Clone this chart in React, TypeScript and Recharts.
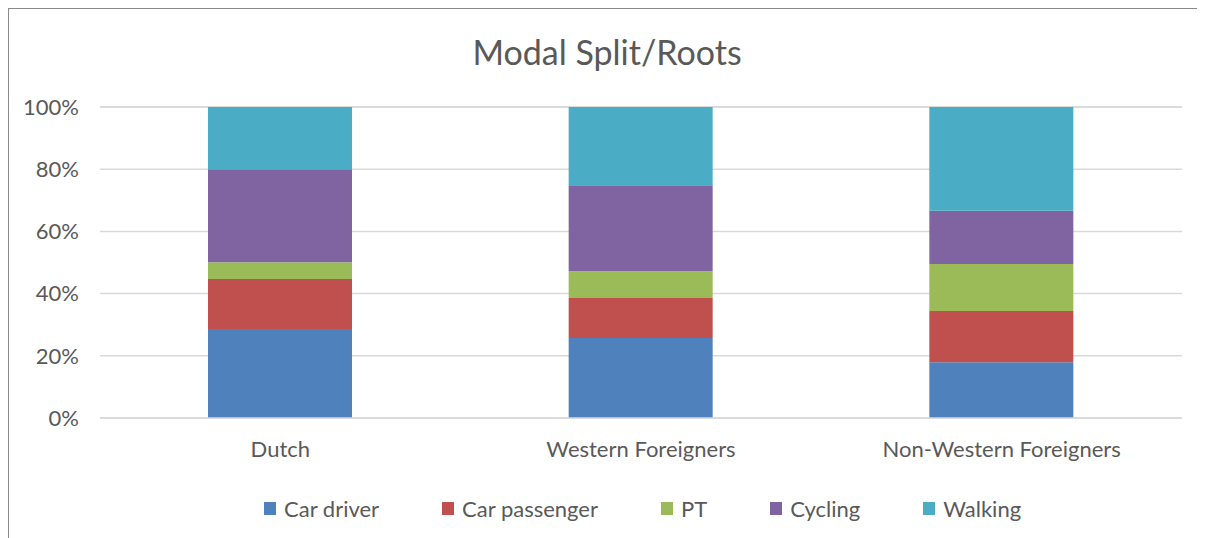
import { Bar, BarChart, CartesianGrid, Legend, XAxis, YAxis } from "recharts";

const groups = ["Dutch", "Western Foreigners", "Non-Western Foreigners"];
const carDriver = [28.6, 25.7, 17.9];
const carPassenger = [16.1, 12.9, 16.5];
const pt = [5.4, 8.6, 15.1];
const cycling = [29.9, 27.6, 17.1];
const walking = [20.0, 25.2, 33.4];
const yTicks = [0, 20, 40, 60, 80, 100];

const data = groups.map((name, i) => ({
  name,
  carDriver: carDriver[i],
  carPassenger: carPassenger[i],
  pt: pt[i],
  cycling: cycling[i],
  walking: walking[i],
}));

const series = [
  { key: "carDriver", label: "Car driver", color: "#4F81BD" },
  { key: "carPassenger", label: "Car passenger", color: "#C0504D" },
  { key: "pt", label: "PT", color: "#9BBB59" },
  { key: "cycling", label: "Cycling", color: "#8064A2" },
  { key: "walking", label: "Walking", color: "#4BACC6" },
];

const TEXT = "#595959";
const FONT = "Lato, 'Open Sans', sans-serif";
const W = 1196;
const H = 530;

// recharts sorts legend items by name; keep the series order instead
const order = (label: unknown) => series.findIndex((s) => s.label === label);

export default function App() {
  return (
    <div
      style={{
        position: "relative",
        width: W,
        height: H,
        borderLeft: "1px solid #898989",
        borderTop: "1px solid #898989",
        background: "#fff",
        fontFamily: FONT,
      }}
    >
      <div
        style={{
          position: "absolute",
          top: 26,
          left: 0,
          width: W,
          textAlign: "center",
          fontSize: 34,
          lineHeight: "34px",
          color: TEXT,
        }}
      >
        Modal Split/Roots
      </div>
      <BarChart width={W} height={H} data={data} margin={{ top: 98, right: 23, left: 0, bottom: 0 }}>
        <CartesianGrid vertical={false} stroke="#d9d9d9" strokeWidth={1.5} />
        <XAxis
          dataKey="name"
          height={60}
          tickSize={0}
          tickMargin={23}
          axisLine={{ stroke: "#d9d9d9", strokeWidth: 1.5 }}
          tick={{ fill: TEXT, fontSize: 22, fontFamily: FONT }}
        />
        <YAxis
          width={91}
          domain={[0, 100]}
          ticks={yTicks}
          tickFormatter={(v) => `${v}%`}
          tickSize={0}
          tickMargin={21}
          axisLine={false}
          tick={{ fill: TEXT, fontSize: 22, fontFamily: FONT }}
        />
        <Legend
          verticalAlign="bottom"
          wrapperStyle={{ height: 61 }}
          content={({ payload }) => (
            <div
              style={{
                height: 61,
                display: "flex",
                alignItems: "center",
                justifyContent: "flex-start",
                paddingLeft: 255,
                gap: 63,
                fontFamily: FONT,
                fontSize: 22,
                color: TEXT,
              }}
            >
              {[...(payload ?? [])]
                .sort((a, b) => order(a.value) - order(b.value))
                .map((p) => (
                  <div key={String(p.value)} style={{ display: "flex", alignItems: "center", gap: 8 }}>
                    <span style={{ width: 12, height: 13, background: p.color, display: "inline-block" }} />
                    <span>{p.value}</span>
                  </div>
                ))}
            </div>
          )}
        />
        {series.map((s) => (
          <Bar
            key={s.key}
            dataKey={s.key}
            name={s.label}
            stackId="a"
            fill={s.color}
            barSize={144}
            isAnimationActive={false}
          />
        ))}
      </BarChart>
    </div>
  );
}
